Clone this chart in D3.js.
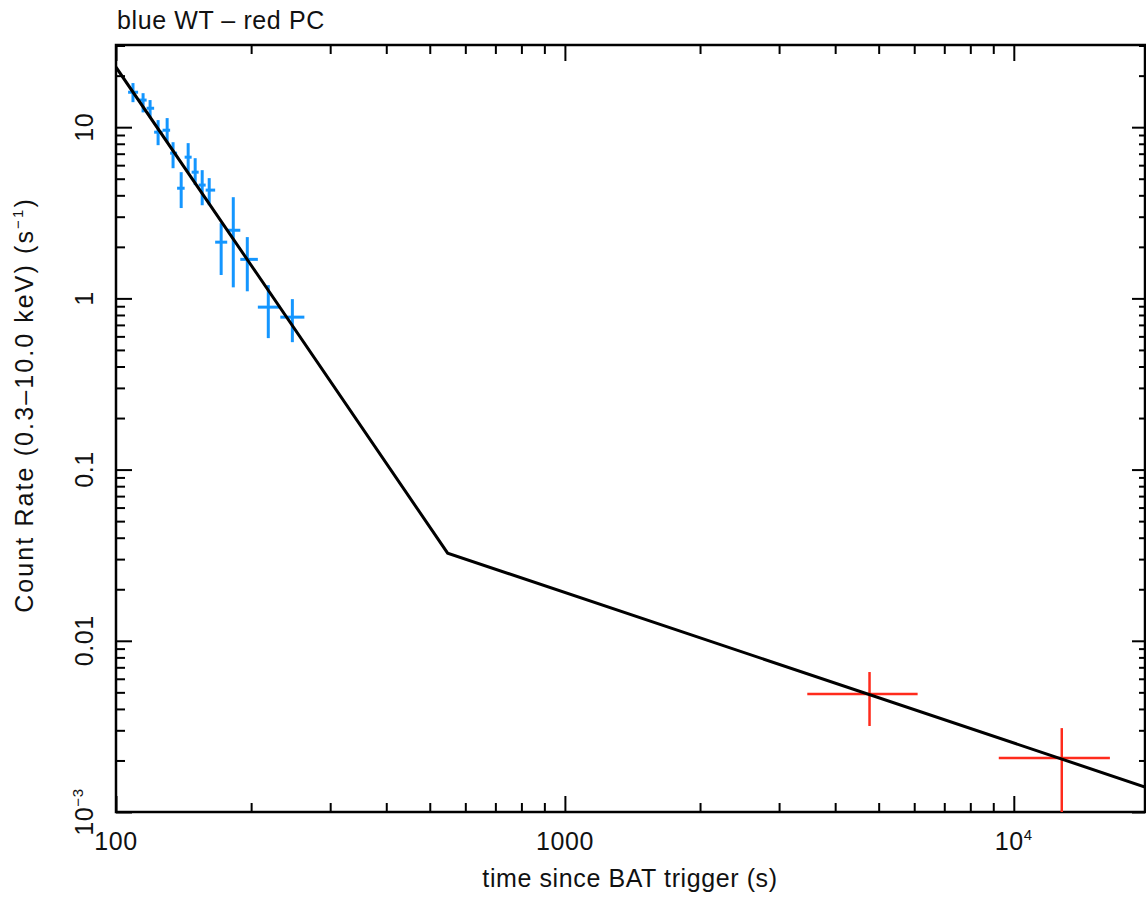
<!DOCTYPE html>
<html lang="en">
<head>
  <meta charset="UTF-8">
  <title>XRT light curve</title>
  <script src="https://d3js.org/d3.v7.min.js"></script>
  <style>
    body { margin: 0; background: #fff; }
    text { font-family: "Liberation Sans", Arial, sans-serif; font-size: 25px; letter-spacing: 0.6px; fill: #111; }
  </style>
</head>
<body>
  <script>
    // WT mode (blue) bins
    var wtTime  = [109.1, 114.9, 119.1, 124.1, 130.0, 134.0, 139.7, 144.8, 150.1, 155.6, 161.3, 171.5, 182.5, 196.1, 218.4, 247.1];
    var wtStart = [106.4, 112.0, 117.0, 121.6, 127.0, 132.0, 136.8, 142.2, 147.4, 152.8, 158.4, 166.3, 176.9, 189.2, 207.0, 232.3];
    var wtStop  = [112.0, 117.0, 121.6, 127.0, 132.0, 136.8, 142.2, 147.4, 152.8, 158.4, 166.3, 176.9, 189.2, 207.0, 232.3, 262.8];
    var wtRate  = [16.0, 14.4, 12.9, 9.35, 9.60, 7.05, 4.40, 6.68, 5.46, 4.59, 4.29, 2.13, 2.50, 1.69, 0.889, 0.777];
    var wtHi    = [18.1, 15.8, 14.4, 11.0, 11.3, 8.17, 5.46, 8.07, 6.59, 5.61, 5.04, 2.75, 3.90, 2.28, 1.195, 0.990];
    var wtLo    = [14.0, 12.2, 11.4, 7.85, 8.17, 5.76, 3.37, 5.46, 4.59, 3.50, 3.50, 1.37, 1.16, 1.10, 0.586, 0.555];

    // PC mode (red) bins
    var pcTime  = [4771, 12790];
    var pcStart = [3467, 9258];
    var pcStop  = [6106, 16370];
    var pcRate  = [0.00489, 0.00207];
    var pcHi    = [0.00657, 0.00309];
    var pcLo    = [0.00318, 0.0009];

    // broken power-law model
    var modelTime = [100, 548, 19600];
    var modelRate = [22.4, 0.0325, 0.0014];

    var xMajor = [100, 1000, 10000];
    var xMinor = [200, 300, 400, 500, 600, 700, 800, 900, 2000, 3000, 4000, 5000, 6000, 7000, 8000, 9000];
    var yMajor = [0.001, 0.01, 0.1, 1, 10];
    var yMinor = [];
    yMajor.forEach(function (d) {
      for (var k = 2; k <= 9; k++) { if (d * k <= 30) yMinor.push(d * k); }
    });

    var width = 1146, height = 897;
    var plotL = 116, plotR = 1145, plotT = 45, plotB = 812;

    var svg = d3.select("body").append("svg")
      .attr("width", width)
      .attr("height", height);

    var x = d3.scaleLog().domain([100, 19600]).range([plotL, plotR]);
    var y = d3.scaleLog().domain([0.001, 30.2]).range([plotB, plotT]);

    svg.append("clipPath").attr("id", "plot")
      .append("rect")
      .attr("x", plotL).attr("y", plotT)
      .attr("width", plotR - plotL).attr("height", plotB - plotT);

    // ticks, all pointing inward
    function ticks(axis, vals, size, tr) {
      var g = svg.append("g")
        .attr("transform", tr)
        .call(axis.tickValues(vals).tickSize(size).tickFormat(""));
      g.select(".domain").remove();
      g.selectAll("line").attr("stroke", "#000").attr("stroke-width", 2);
    }
    ticks(d3.axisTop(x), xMajor, 16, "translate(0," + plotB + ")");
    ticks(d3.axisTop(x), xMinor, 9, "translate(0," + plotB + ")");
    ticks(d3.axisBottom(x), xMajor, 16, "translate(0," + plotT + ")");
    ticks(d3.axisBottom(x), xMinor, 9, "translate(0," + plotT + ")");
    ticks(d3.axisRight(y), yMajor, 16, "translate(" + plotL + ",0)");
    ticks(d3.axisRight(y), yMinor, 9, "translate(" + plotL + ",0)");
    ticks(d3.axisLeft(y), yMajor, 13, "translate(" + plotR + ",0)");
    ticks(d3.axisLeft(y), yMinor, 6, "translate(" + plotR + ",0)");

    // frame
    svg.append("rect")
      .attr("x", plotL).attr("y", plotT)
      .attr("width", plotR - plotL).attr("height", plotB - plotT)
      .attr("fill", "none")
      .attr("stroke", "#000")
      .attr("stroke-width", 2.5);

    // x tick labels
    var xLab = svg.append("g");
    xMajor.forEach(function (d) {
      var t = xLab.append("text")
        .attr("x", x(d))
        .attr("y", 850)
        .attr("text-anchor", "middle");
      if (d < 10000) {
        t.text(d);
      } else {
        t.append("tspan").text("10");
        t.append("tspan").attr("font-size", "15px").attr("dy", -10).text("4");
      }
    });

    // y tick labels (rotated)
    var yText = ["10-3", "0.01", "0.1", "1", "10"];
    yMajor.forEach(function (d, i) {
      var t = svg.append("text")
        .attr("transform", "translate(93," + y(d) + ")rotate(-90)")
        .attr("text-anchor", "middle");
      if (i === 0) {
        t.append("tspan").text("10");
        t.append("tspan").attr("font-size", "15px").attr("dy", -10).text("\u22123");
      } else {
        t.text(yText[i]);
      }
    });

    // error bars
    function errs(time, start, stop, rate, lo, hi, color, sw) {
      var g = svg.append("g")
        .attr("clip-path", "url(#plot)")
        .attr("stroke", color)
        .attr("stroke-width", sw);
      g.selectAll(".h").data(time).enter().append("line")
        .attr("x1", function (d, i) { return x(start[i]); })
        .attr("x2", function (d, i) { return x(stop[i]); })
        .attr("y1", function (d, i) { return y(rate[i]); })
        .attr("y2", function (d, i) { return y(rate[i]); });
      g.selectAll(".v").data(time).enter().append("line")
        .attr("x1", function (d) { return x(d); })
        .attr("x2", function (d) { return x(d); })
        .attr("y1", function (d, i) { return y(lo[i]); })
        .attr("y2", function (d, i) { return y(hi[i]); });
    }
    errs(wtTime, wtStart, wtStop, wtRate, wtLo, wtHi, "#1496FF", 3);
    errs(pcTime, pcStart, pcStop, pcRate, pcLo, pcHi, "#FF2B1C", 2.5);

    // model
    var line = d3.line()
      .x(function (d) { return x(d); })
      .y(function (d, i) { return y(modelRate[i]); });
    svg.append("path")
      .attr("clip-path", "url(#plot)")
      .attr("d", line(modelTime))
      .attr("fill", "none")
      .attr("stroke", "#000")
      .attr("stroke-width", 3);

    // titles
    svg.append("text")
      .attr("x", 117)
      .attr("y", 29)
      .text("blue WT \u2013 red PC");

    svg.append("text")
      .attr("x", 630)
      .attr("y", 887)
      .attr("text-anchor", "middle")
      .text("time since BAT trigger (s)");

    var yl = svg.append("text")
      .attr("transform", "translate(33,405)rotate(-90)")
      .attr("text-anchor", "middle")
      .style("letter-spacing", "2.1px");
    yl.append("tspan").text("Count Rate (0.3\u201310.0 keV) (s");
    yl.append("tspan").attr("font-size", "15px").attr("dy", -10).text("\u22121");
    yl.append("tspan").attr("dy", 10).text(")");
  </script>
</body>
</html>
